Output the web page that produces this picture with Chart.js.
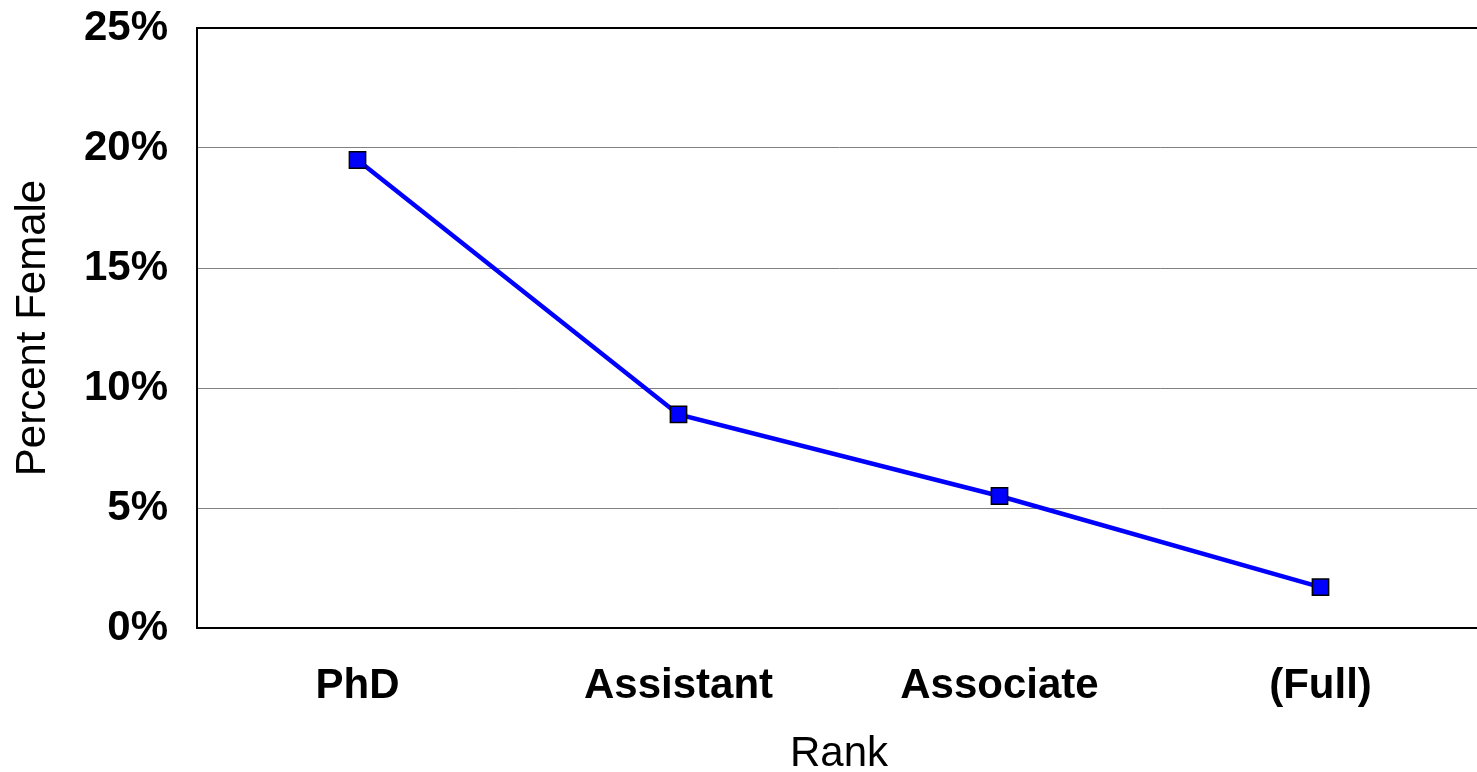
<!DOCTYPE html>
<html>
<head>
<meta charset="utf-8">
<script src="https://cdn.jsdelivr.net/npm/chart.js@4/dist/chart.umd.min.js"></script>
<style>
  html, body { margin: 0; padding: 0; background: #fff; overflow: hidden; }
  canvas { display: block; }
</style>
</head>
<body>
<canvas id="chart" width="1494" height="772"></canvas>
<script>
// Share of women at each academic rank
const ranks = ['PhD', 'Assistant', 'Associate', '(Full)'];
const percentFemale = [19.5, 8.9, 5.5, 1.7];
const yTicks = [0, 5, 10, 15, 20, 25];

const FONT = '"Liberation Sans", Arial, Helvetica, sans-serif';

new Chart(document.getElementById('chart'), {
  type: 'line',
  data: {
    labels: ranks,
    datasets: [{
      data: percentFemale,
      borderColor: '#0000ff',
      borderWidth: 4.5,
      pointStyle: 'rect',
      pointRadius: 11.5,
      pointBackgroundColor: '#0000ff',
      pointBorderColor: '#000000',
      pointBorderWidth: 1.5,
      tension: 0,
      fill: false
    }]
  },
  options: {
    responsive: false,
    animation: false,
    layout: { padding: { left: 0, top: 28, right: 4, bottom: 0 } },
    plugins: { legend: { display: false }, tooltip: { enabled: false } },
    scales: {
      x: {
        offset: true,
        afterFit: s => { s.height = 144; },
        grid: { display: false, drawTicks: false },
        border: { display: true, color: '#000', width: 2 },
        ticks: {
          padding: 37,
          color: '#000',
          font: { family: FONT, size: 42, weight: 'bold', lineHeight: 1 }
        },
        title: {
          display: true,
          text: 'Rank',
          color: '#000',
          padding: { top: 0, bottom: -3 },
          font: { family: FONT, size: 42, lineHeight: 1 }
        }
      },
      y: {
        min: 0,
        max: 25,
        afterFit: s => { s.width = 197; s.paddingTop = 0; s.paddingBottom = 0; },
        afterBuildTicks: s => { s.ticks = yTicks.map(v => ({ value: v })); },
        grid: {
          drawTicks: false,
          color: c => (c.tick && c.tick.value === 25) ? '#000' : '#808080',
          lineWidth: c => (c.tick && c.tick.value === 25) ? 2 : 1
        },
        border: { display: true, color: '#000', width: 2 },
        ticks: {
          padding: 29,
          color: '#000',
          callback: v => v + '%',
          font: { family: FONT, size: 42, weight: 'bold', lineHeight: 1 }
        },
        title: {
          display: true,
          text: 'Percent Female',
          color: '#000',
          padding: { top: 12, bottom: 0 },
          font: { family: FONT, size: 42, lineHeight: 1 }
        }
      }
    }
  }
});
</script>
</body>
</html>
